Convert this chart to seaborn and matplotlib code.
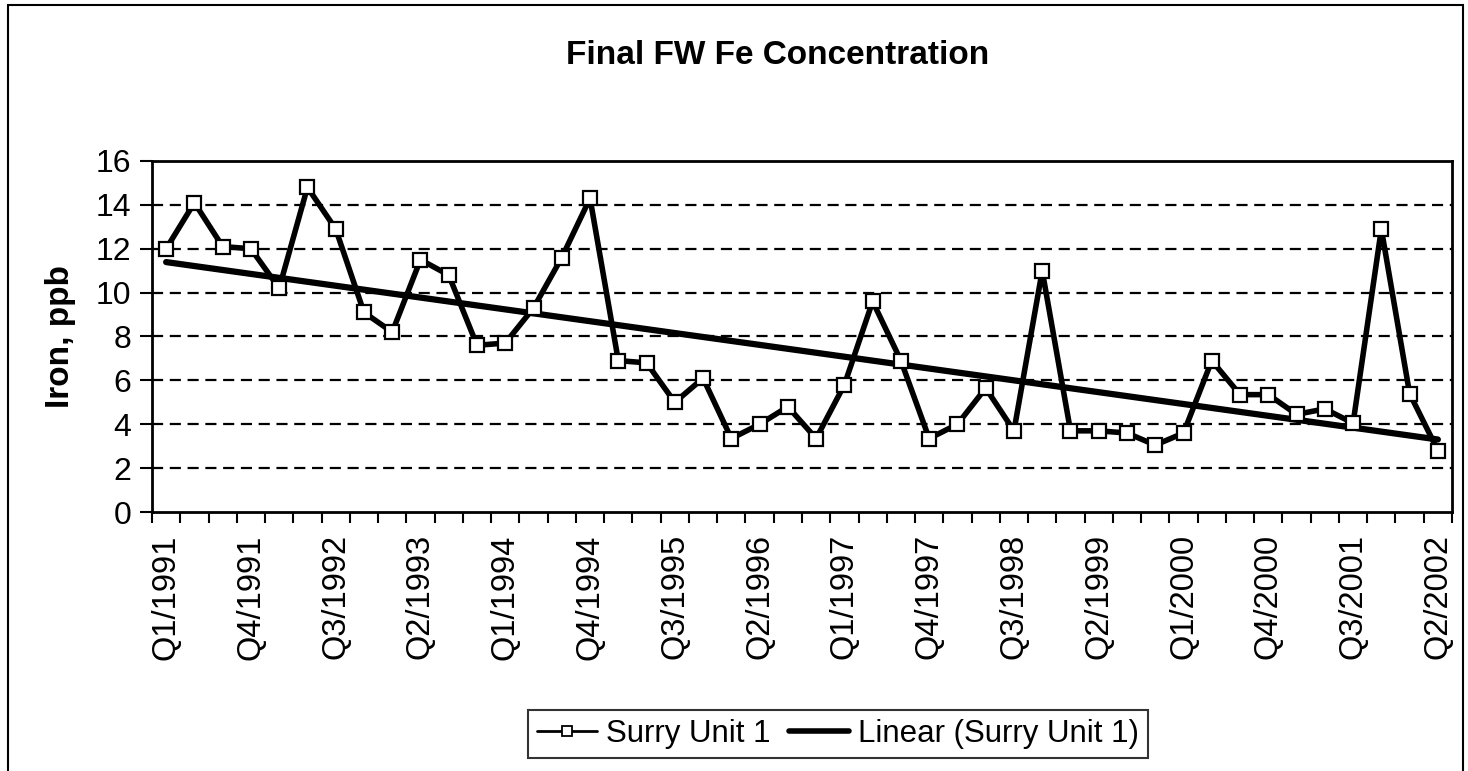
"""Final FW Fe concentration at Surry Unit 1, quarterly, with a linear trend."""

import matplotlib

matplotlib.use("Agg")
import matplotlib.pyplot as plt
import numpy as np
import pandas as pd
import seaborn as sns
from matplotlib.lines import Line2D
from matplotlib.patches import Rectangle

TITLE = "Final FW Fe Concentration"
YLABEL = "Iron, ppb"
SERIES = "Surry Unit 1"
TREND = "Linear (Surry Unit 1)"

# one category per quarter, Q1/1991 .. Q2/2002
quarters = [f"Q{q}/{y}" for y in range(1991, 2003) for q in range(1, 5)][:46]
iron_ppb = [
    12.0, 14.1, 12.1, 12.0, 10.2, 14.8, 12.9, 9.1, 8.2, 11.5,
    10.8, 7.6, 7.7, 9.3, 11.6, 14.3, 6.9, 6.8, 5.0, 6.1,
    3.35, 4.0, 4.8, 3.35, 5.8, 9.6, 6.9, 3.35, 4.0, 5.65,
    3.7, 11.0, 3.7, 3.7, 3.6, 3.05, 3.6, 6.9, 5.35, 5.35,
    4.45, 4.7, 4.05, 12.9, 5.4, 2.8,
]
yticks = [0, 2, 4, 6, 8, 10, 12, 14, 16]
label_every = 3

df = pd.DataFrame({"quarter": quarters, "iron": iron_ppb})
df["pos"] = np.arange(len(df))
# Excel-style linear trendline over the category index
slope, intercept = np.polyfit(df["pos"], df["iron"], 1)
df["trend"] = intercept + slope * df["pos"]

sns.set_style("ticks")
plt.rcParams["font.family"] = ["Liberation Sans", "DejaVu Sans"]
# seaborn greys the text; the scanned original is plain black
for key in ("text.color", "axes.labelcolor", "xtick.color", "ytick.color"):
    plt.rcParams[key] = "black"

W, H = 1468, 771
fig = plt.figure(figsize=(W / 100, H / 100), dpi=100)
ax = fig.add_axes([152 / W, 1 - 512 / H, (1452 - 152) / W, (512 - 161) / H])

for y in yticks[1:-1]:
    ax.axhline(y, color="black", lw=1.6, ls=(0, (5, 3)), zorder=1)

sns.lineplot(data=df, x="pos", y="trend", color="black", lw=4.5, ax=ax, zorder=2)
sns.lineplot(
    data=df, x="pos", y="iron", color="black", lw=4, marker="s", markersize=9.5,
    markerfacecolor="white", markeredgecolor="black", markeredgewidth=1.6, ax=ax, zorder=3,
)

ax.set_xlim(-0.5, len(df) - 0.5)
ax.set_ylim(yticks[0], yticks[-1])
ax.set_yticks(yticks)
ax.set_xticks(df["pos"][::label_every], df["quarter"][::label_every], rotation=90)
ax.set_xticks(np.arange(-0.5, len(df), 1), minor=True)
ax.tick_params(axis="x", which="major", length=0, pad=16, labelsize=23.5)
ax.tick_params(axis="x", which="minor", length=8, width=1.5, color="black")
ax.tick_params(axis="y", length=9, width=1.5, color="black", labelsize=23, pad=6)
ax.set_xlabel("")
ax.set_ylabel(YLABEL, fontsize=24, fontweight="bold", labelpad=14)
for side in ax.spines.values():
    side.set_visible(True)
    side.set_color("black")
    side.set_linewidth(2)

fig.text(778 / W, 1 - 55 / H, TITLE, ha="center", va="center", fontsize=24, fontweight="bold")

handles = [
    Line2D([], [], color="black", lw=2, marker="s", markersize=7,
           markerfacecolor="white", markeredgecolor="black", markeredgewidth=1.3),
    Line2D([], [], color="black", lw=4),
]
fig.legend(
    handles, [SERIES, TREND], loc="center", bbox_to_anchor=(838 / W, 1 - 734 / H),
    ncol=2, fontsize=22.5, frameon=True, fancybox=False, edgecolor="black",
    handlelength=1.9, handletextpad=0.3, columnspacing=0.6, borderpad=0.3,
    borderaxespad=0,
).get_frame().set_linewidth(1.5)

fig.patches.append(Rectangle((8 / W, -0.02), (1463 - 8) / W, 1.02 - 5 / H,
                             transform=fig.transFigure, fill=False, ec="black", lw=1.5))

fig.savefig("out.png", dpi=100)
plt.close(fig)
